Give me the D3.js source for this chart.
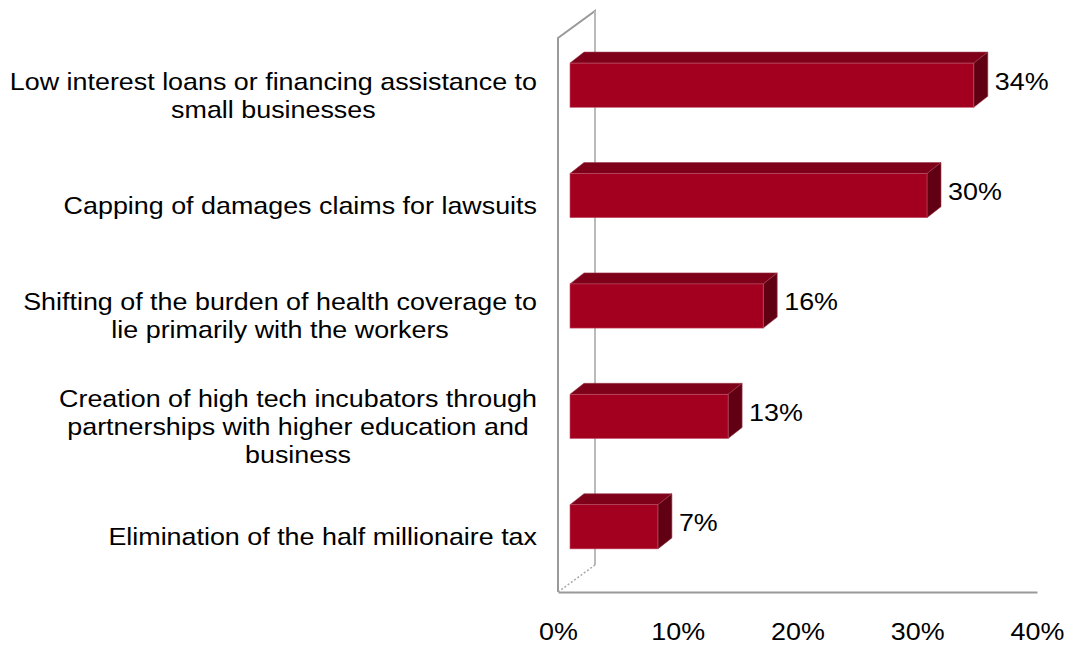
<!DOCTYPE html>
<html>
<head>
<meta charset="utf-8">
<script src="https://cdn.jsdelivr.net/npm/d3@7"></script>
<style>
  html, body { margin: 0; padding: 0; background: #fff; }
  svg { display: block; font-family: "Liberation Sans", Arial, sans-serif; }
</style>
</head>
<body>
<svg id="chart" width="1069" height="645"></svg>
<script>
// Survey results: share of respondents choosing each policy
const categories = [
  "Low interest loans or financing assistance to small businesses",
  "Capping of damages claims for lawsuits",
  "Shifting of the burden of health coverage to lie primarily with the workers",
  "Creation of high tech incubators through partnerships with higher education and business",
  "Elimination of the half millionaire tax"
];
const labelLines = [
  ["Low interest loans or financing assistance to", "small businesses"],
  ["Capping of damages claims for lawsuits"],
  ["Shifting of the burden of health coverage to", "lie primarily with the workers"],
  ["Creation of high tech incubators through", "partnerships with higher education and", "business"],
  ["Elimination of the half millionaire tax"]
];
const values = [34, 30, 16, 13, 7];
const tickValues = [0, 10, 20, 30, 40];

const svg = d3.select("#chart");
const fontSize = 24, stretch = 1.12;   // text is drawn slightly wide

// Front plane of the 3D plot area (value axis)
const x = d3.scaleLinear().domain([0, 40]).range([558, 1037]);
// Bars sit deeper in the box, where perspective shortens the value scale
const xBar = d3.scaleLinear().domain([0, 40]).range([576, 1044]);
const y = d3.scaleBand().domain(categories).range([30, 582]).paddingInner(0.6).paddingOuter(0.3);
const floorY = 592, topY = 38;
const wallDX = 37, wallDY = -27;   // depth of the plot box
const barBaseX = 570;              // where the bars meet the side wall
const barDX = 14, barDY = -11;     // bar depth

const colFront = "#A3001F", colTop = "#7E0019", colSide = "#620013";

// Walls
const wall = svg.append("g").attr("fill", "none");
wall.append("path")
  .attr("d", `M${x(0)},${floorY} L${x(0)},${topY} L${x(0) + wallDX},${topY + wallDY} L${x(0) + wallDX},${floorY + wallDY}`)
  .attr("stroke", "#9a9a9a").attr("stroke-width", 2);
wall.append("line")
  .attr("x1", x(0) + wallDX).attr("y1", topY + wallDY)
  .attr("x2", x(0) + wallDX).attr("y2", floorY + wallDY)
  .attr("stroke", "#c4c4c4").attr("stroke-width", 1.5);
wall.append("line")
  .attr("x1", x(0)).attr("y1", floorY)
  .attr("x2", x(0) + wallDX).attr("y2", floorY + wallDY)
  .attr("stroke", "#a8a8a8").attr("stroke-width", 1.5).attr("stroke-dasharray", "2,2");

// Bars: front, top and side faces
const bars = svg.append("g").selectAll("g").data(values).join("g");
bars.each(function (v, i) {
  const g = d3.select(this);
  const x0 = barBaseX, x1 = xBar(v);
  const y0 = y(categories[i]), y1 = y0 + y.bandwidth();
  g.append("path")
    .attr("d", `M${x0},${y0} L${x0 + barDX},${y0 + barDY} L${x1 + barDX},${y0 + barDY} L${x1},${y0} Z`)
    .attr("fill", colTop).attr("stroke", "#9c3a4c").attr("stroke-width", 0.6);
  g.append("path")
    .attr("d", `M${x1},${y0} L${x1 + barDX},${y0 + barDY} L${x1 + barDX},${y1 + barDY} L${x1},${y1} Z`)
    .attr("fill", colSide).attr("stroke", "#9c3a4c").attr("stroke-width", 0.6);
  g.append("rect")
    .attr("x", x0).attr("y", y0).attr("width", x1 - x0).attr("height", y1 - y0)
    .attr("fill", colFront).attr("stroke", "#c0506a").attr("stroke-width", 0.6);
  g.append("text")
    .attr("transform", `translate(${x1 + barDX + 7},${y0 + y.bandwidth() / 2 - 4}) scale(${stretch},1)`)
    .attr("dy", "0.35em")
    .attr("font-size", fontSize)
    .attr("fill", "#000")
    .text(v + "%");
});

// Value axis along the front floor edge
const axis = svg.append("g").attr("transform", `translate(0,${floorY})`)
  .call(d3.axisBottom(x).tickValues(tickValues).tickFormat(d => d + "%").tickSize(0).tickPadding(31));
axis.select(".domain").attr("stroke", "#9a9a9a").attr("stroke-width", 2);
axis.selectAll("text")
  .attr("font-size", fontSize).attr("fill", "#000")
  .attr("font-family", "Liberation Sans, Arial, sans-serif")
  .attr("transform", `scale(${stretch},1)`);

// Category labels: lines centred within a block whose right edge is fixed
const labelRight = 537, lineH = 28;
const labels = svg.append("g").attr("font-size", fontSize).attr("fill", "#000");
labelLines.forEach((lines, i) => {
  const cy = y(categories[i]) + y.bandwidth() / 2 + 10;
  const t = labels.append("text")
    .attr("text-anchor", "middle")
    .attr("transform", `translate(${labelRight},0) scale(${stretch},1)`);
  const spans = lines.map((ln, k) =>
    t.append("tspan").attr("y", cy + (k - (lines.length - 1) / 2) * lineH).attr("dy", "0.35em").text(ln));
  const w = d3.max(spans, s => s.node().getComputedTextLength());
  spans.forEach(s => s.attr("x", -w / 2));
});
</script>
</body>
</html>
